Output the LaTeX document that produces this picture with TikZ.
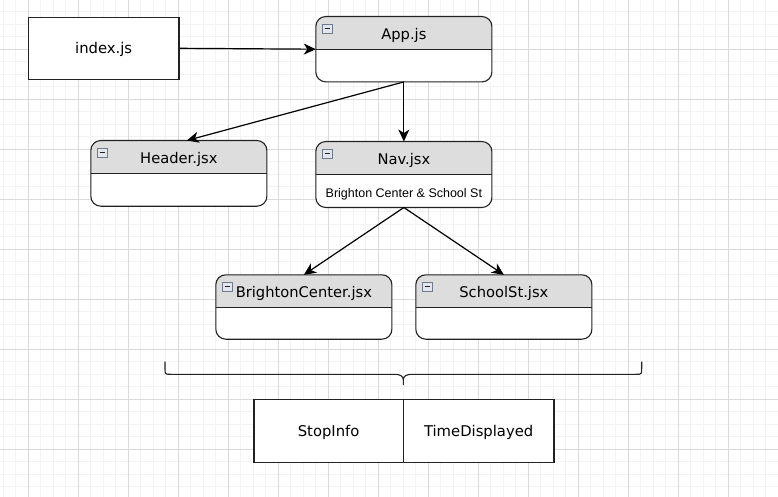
\documentclass[tikz,border=0pt]{standalone}
\usepackage{fontspec}
\setmainfont{DejaVu Sans}
\newfontfamily\bodyfont{Liberation Sans}
\usetikzlibrary{arrows.meta,calc}
\definecolor{gmajor}{HTML}{DADADA}
\definecolor{gminor}{HTML}{F3F3F3}
\definecolor{hdrgray}{HTML}{DDDDDD}
\definecolor{edgec}{HTML}{222222}
\definecolor{iconfill}{HTML}{E3E6ED}
\definecolor{iconline}{HTML}{6F7A8C}

\tikzset{
  boxbase/.style={draw=none, fill=white, inner sep=0pt},
  plainbox/.style={draw=edgec, fill=white, line width=1.1pt, inner sep=0pt,
    font=\fontsize{14.8}{16}\selectfont, text height=10.8pt, text depth=0pt},
  ttl/.style={anchor=base, inner sep=0pt, font=\fontsize{14.7}{16}\selectfont},
  bodytxt/.style={anchor=base, inner sep=0pt, font=\bodyfont\fontsize{12.5}{14}\selectfont},
  iconbox/.style={draw=iconline, fill=iconfill, line width=0.8pt, minimum width=10pt,
    minimum height=9pt, inner sep=0pt,
    path picture={\draw[edgec, line width=1pt]
      ($(path picture bounding box.west)+(2.2pt,0)$) --
      ($(path picture bounding box.east)+(-2.2pt,0)$);}},
  arr/.style={draw=black, line width=1.2pt,
    -{Stealth[length=12pt, width=11pt, inset=3.5pt]}},
  bracestyle/.style={draw=edgec, line width=1.1pt},
}

% id, cx, cy, w, h, header height, title
\newcommand{\classbox}[7]{%
  \node[boxbase, minimum width=#4pt, minimum height=#5pt] (#1) at (#2,#3) {};
  \begin{scope}
    \clip (#1.north west) rectangle ($(#1.north east)+(0pt,-#6pt)$);
    \fill[hdrgray, rounded corners=10pt] (#1.north west) rectangle (#1.south east);
  \end{scope}
  \draw[edgec, line width=1.1pt, rounded corners=10pt] (#1.north west) rectangle (#1.south east);
  \draw[edgec, line width=1.1pt] ($(#1.north west)+(0pt,-#6pt)$) -- ($(#1.north east)+(0pt,-#6pt)$);
  \node[ttl] (#1-title) at ($(#1.north)+(0pt,-0.5*#6pt-6.3pt)$) {#7};
  \node[iconbox] (#1-icon) at ($(#1.north west)+(11.7pt,-12pt)$) {};
}

\begin{document}
\begin{tikzpicture}[x=1pt, y=-1pt]
  \useasboundingbox (0,0) rectangle (778,497);
  \fill[white] (0,0) rectangle (778,497);
  % grid
  \foreach \k in {0,...,62} {
    \draw[gminor, line width=1pt] ({3.3+12.5*\k},0) -- ({3.3+12.5*\k},497);
  }
  \foreach \k in {0,...,39} {
    \draw[gminor, line width=1pt] (0,{11.8+12.5*\k}) -- (778,{11.8+12.5*\k});
  }
  \foreach \k in {0,...,15} {
    \draw[gmajor, line width=1pt] ({28.3+50*\k},0) -- ({28.3+50*\k},497);
  }
  \foreach \k in {0,...,9} {
    \draw[gmajor, line width=1pt] (0,{49.3+50*\k}) -- (778,{49.3+50*\k});
  }

  % nodes
  \node[plainbox, minimum width=150.7pt, minimum height=62pt] (index) at (103.65,48.3) {index.js};
  \classbox{app}{403.85}{49.2}{175.7}{65}{33.3}{App.js}
  \classbox{hdr}{178.85}{173.35}{175.7}{65.3}{32.6}{Header.jsx}
  \classbox{nav}{403.85}{174.5}{175.7}{65.6}{33.3}{Nav.jsx}
  \node[bodytxt] (navbody) at (403.85,197.3) {Brighton Center \& School St};
  \classbox{bc}{303.85}{307}{175.7}{64}{32.3}{BrightonCenter.jsx}
  \classbox{ss}{503.85}{307}{175.7}{64}{32.3}{SchoolSt.jsx}

  \node[plainbox, minimum width=149.3pt, minimum height=63pt] (stop) at (328.65,431.2) {StopInfo};
  \node[plainbox, minimum width=150.7pt, minimum height=63pt] (time) at (478.65,431.2) {TimeDisplayed};

  % brace
  \draw[bracestyle] (165,361.7) -- (165,368.5) .. controls (165,374.3) .. (171,374.3)
     -- (394,374.3) .. controls (401,374.3) and (403.3,376.5) .. (403.3,380) -- (403.3,385)
     (403.3,380) .. controls (403.3,376.5) and (405.6,374.3) .. (412.6,374.3)
     -- (635.7,374.3) .. controls (641.7,374.3) .. (641.7,368.5) -- (641.7,361.7);

  % connectors
  \draw[arr] (index.east) -- (app.west);
  \draw[arr] (app.south) -- (nav.north);
  \draw[arr] (app.south) -- ([xshift=8pt]hdr.north);
  \draw[arr] (nav.south) -- (bc.north);
  \draw[arr] (nav.south) -- (ss.north);
\end{tikzpicture}
\end{document}
